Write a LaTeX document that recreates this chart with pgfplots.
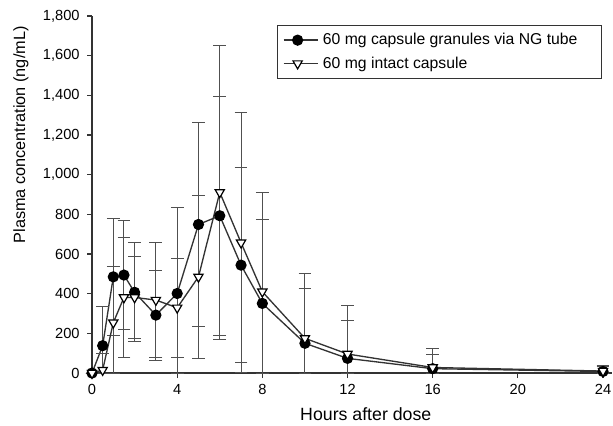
\documentclass[border=0pt]{standalone}
\usepackage{pgfplots}
\pgfplotsset{compat=1.18}
\usepackage{fontspec}
\setmainfont{Liberation Sans}
\definecolor{ln}{HTML}{333333}
\definecolor{eb}{HTML}{505050}
\begin{document}
\begin{tikzpicture}
\begin{axis}[
  name=ax,
  scale only axis,
  width=389.6pt, height=267.75pt,
  xmin=0, xmax=24.4, ymin=0, ymax=1800,
  axis lines=left,
  axis line style={-, line width=0.9pt, color=ln},
  xtick={0,4,8,12,16,20,24},
  ytick={0,200,400,600,800,1000,1200,1400,1600,1800},
  tick align=outside,
  tick style={line width=0.8pt, color=ln},
  major tick length=3.75pt,
  /pgf/number format/assume math mode=true,
  /pgf/number format/1000 sep={,},
  ticklabel style={font=\fontsize{11}{13}\selectfont},
  yticklabel style={xshift=-2pt},
  xticklabel style={yshift=-1.5pt},
  xlabel={Hours after dose},
  ylabel={Plasma concentration (ng/mL)},
  xlabel style={font=\fontsize{13.3}{15}\selectfont, at={(rel axis cs:0.527,-0.116)}, anchor=center},
  ylabel style={font=\fontsize{12.2}{14}\selectfont, at={(rel axis cs:-0.1367,0.667)}, anchor=center},
  clip=false,
  legend style={at={(rel axis cs:0.9817,0.975)}, anchor=north east, draw=ln, line width=0.8pt,
    font=\fontsize{11.8}{13}\selectfont, row sep=3.5pt, inner xsep=4pt, inner ysep=4pt,
    column sep=1pt},
  legend cell align=left,
  legend image code/.code={\draw[#1] (0pt,0pt) -- (26pt,0pt); \draw[#1, mark repeat=1] plot coordinates {(10.5pt,0pt)};},
]
\addplot+[color=ln, line width=1pt, mark=*, mark size=3.7pt,
  mark options={fill=black, draw=black, solid},
  error bars/.cd, y dir=both, y explicit,
  error bar style={color=eb, line width=0.7pt},
  error mark options={rotate=90, mark size=4.8pt, line width=0.7pt, color=eb}]
coordinates {
(0,0) += (0,0) -= (0,0)
(0.5,138) += (0,200) -= (0,138)
(1,485) += (0,295) -= (0,295)
(1.5,494) += (0,274) -= (0,274)
(2,407) += (0,250) -= (0,250)
(3,292) += (0,227) -= (0,227)
(4,401) += (0,434) -= (0,401)
(5,749) += (0,513) -= (0,513)
(6,793) += (0,603) -= (0,603)
(7,544) += (0,491) -= (0,491)
(8,351) += (0,424) -= (0,351)
(10,150) += (0,277) -= (0,150)
(12,74) += (0,193) -= (0,74)
(16,22) += (0,70) -= (0,22)
(24,8) += (0,25) -= (0,8)
};
\addlegendentry{60 mg capsule granules via NG tube\rule{12pt}{0pt}}
\addplot+[color=ln, line width=1pt, mark=triangle*, mark size=4pt,
  mark options={fill=white, draw=black, rotate=180, solid, line width=0.9pt},
  error bars/.cd, y dir=both, y explicit,
  error bar style={color=eb, line width=0.7pt},
  error mark options={rotate=90, mark size=4.8pt, line width=0.7pt, color=eb, fill=eb}]
coordinates {
(0,0) += (0,0) -= (0,0)
(0.5,15) += (0,85) -= (0,15)
(1,254) += (0,284) -= (0,254)
(1.5,381) += (0,302) -= (0,302)
(2,381) += (0,207) -= (0,207)
(3,368) += (0,291) -= (0,291)
(4,329) += (0,249) -= (0,249)
(5,485) += (0,409) -= (0,409)
(6,911) += (0,742) -= (0,742)
(7,657) += (0,655) -= (0,655)
(8,410) += (0,500) -= (0,410)
(10,175) += (0,327) -= (0,175)
(12,96) += (0,243) -= (0,96)
(16,28) += (0,96) -= (0,28)
(24,10) += (0,30) -= (0,10)
};
\addlegendentry{60 mg intact capsule}
\end{axis}
\pgfresetboundingbox
\path[use as bounding box] ([shift={(-69pt,-39pt)}]ax.south west) rectangle ([shift={(1.1pt,12pt)}]ax.north east);
\end{tikzpicture}
\end{document}
